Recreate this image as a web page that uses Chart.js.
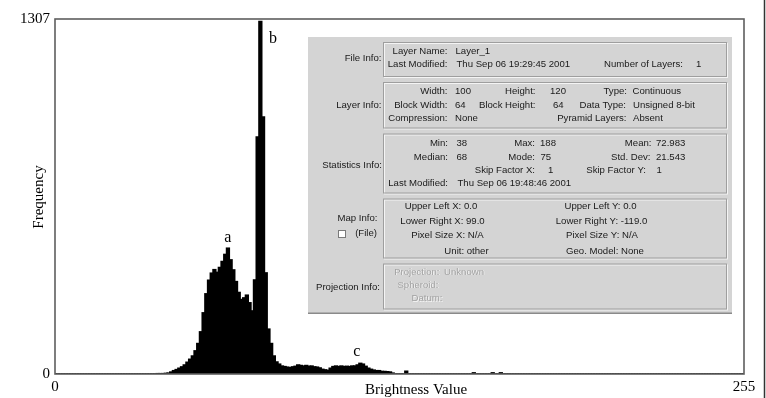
<!DOCTYPE html>
<html><head><meta charset="utf-8">
<script src="https://cdn.jsdelivr.net/npm/chart.js@4.4.1/dist/chart.umd.min.js"></script>
<style>html,body{margin:0;padding:0;background:#fff;overflow:hidden}canvas{display:block}</style>
</head><body>
<canvas id="c" width="766" height="398"></canvas>
<script>
// ---- data ----
const brightnessValues = Array.from({length: 256}, (_, i) => i); // category labels 0..255
const frequency = [
  0,0,0,0,0,0,0,0,0,0,0,0,0,0,0,0,
  0,0,0,0,0,0,0,0,0,0,0,0,0,0,0,0,
  0,0,0,0,0,0,1,1,1,2,3,7,12,16,21,26,
  33,43,54,66,85,112,155,225,295,345,371,384,374,392,414,440,
  463,420,383,340,300,274,280,290,262,232,346,872,1298,946,372,165,
  112,66,44,36,29,27,25,23,26,28,33,31,29,31,28,29,
  26,25,22,17,15,13,21,27,29,27,29,27,28,27,29,29,
  33,39,36,28,21,17,14,12,12,9,9,8,7,3,0,0,
  0,0,10,0,0,0,0,0,0,0,0,0,0,0,0,0,
  0,0,0,0,0,0,0,0,0,0,0,4,0,0,0,0,
  0,0,4,0,0,4,0,0,0,0,0,0,0,0,0,0,
  0,0,0,0,0,0,0,0,0,0,0,0,0,0,0,0,
  0,0,0,0,0,0,0,0,0,0,0,0,0,0,0,0,
  0,0,0,0,0,0,0,0,0,0,0,0,0,0,0,0,
  0,0,0,0,0,0,0,0,0,0,0,0,0,0,0,0,
  0,0,0,0,0,0,0,0,0,0,0,0,0,0,0,0
];
const yTickValues = [0, 1307];
const xTickIndices = [0, 255];
const peakNames = ['a', 'b', 'c'];
const peakBins = [64, 76, 113];
const xTitle = 'Brightness Value';
const yTitle = 'Frequency';

// ---- styles ----
const SERIF = '"Liberation Serif", "Times New Roman", serif';
const SANS = '"Liberation Sans", Arial, sans-serif';
const peakOffsets = [[0, -6.7], [12.6, 22], [-3.6, -7.4]]; // px offsets from bar top

const dialogBoxes = [
  [383, 42, 344, 35],
  [383, 82, 344, 46.5],
  [383, 133.5, 344, 60],
  [383, 198.5, 344, 60],
  [383, 263.5, 344, 46]
];
const L = 'left', R = 'right', C = 'center';
const dialogText = [
  [R,381.5,58,'File Info:'],
  [R,381.5,105,'Layer Info:'],
  [R,382,165,'Statistics Info:'],
  [R,377.5,218.5,'Map Info:'],
  [R,377,233.5,'(File)'],
  [R,380,287,'Projection Info:'],
  [R,447.5,51,'Layer Name:'],[L,455.5,51,'Layer_1'],
  [R,447.5,64.5,'Last Modified:'],[L,456.5,64.5,'Thu Sep 06 19:29:45 2001'],
  [R,683,64.5,'Number of Layers:'],[L,696,64.5,'1'],
  [R,447.5,91,'Width:'],[L,455,91,'100'],[R,535.5,91,'Height:'],[L,550,91,'120'],[R,627,91,'Type:'],[L,632.5,91,'Continuous'],
  [R,447.5,105,'Block Width:'],[L,455,105,'64'],[R,535.5,105,'Block Height:'],[L,553,105,'64'],[R,626,105,'Data Type:'],[L,633,105,'Unsigned 8-bit'],
  [R,447.5,118.5,'Compression:'],[L,455,118.5,'None'],[R,626.5,118.5,'Pyramid Layers:'],[L,633,118.5,'Absent'],
  [R,448,143.5,'Min:'],[L,456.5,143.5,'38'],[R,535,143.5,'Max:'],[L,540,143.5,'188'],[R,651.5,143.5,'Mean:'],[L,656,143.5,'72.983'],
  [R,448,157,'Median:'],[L,456.5,157,'68'],[R,535,157,'Mode:'],[L,540.5,157,'75'],[R,650.5,157,'Std. Dev:'],[L,656,157,'21.543'],
  [R,535,170,'Skip Factor X:'],[L,548,170,'1'],[R,646,170,'Skip Factor Y:'],[L,656.5,170,'1'],
  [R,448,183.5,'Last Modified:'],[L,457.5,183.5,'Thu Sep 06 19:48:46 2001'],
  [C,441,206,'Upper Left X: 0.0'],[C,442.5,221.5,'Lower Right X: 99.0'],[C,447.5,235.5,'Pixel Size X: N/A'],[C,466.5,251,'Unit: other'],
  [C,600.5,206,'Upper Left Y: 0.0'],[C,601.5,221.5,'Lower Right Y: -119.0'],[C,602,235.5,'Pixel Size Y: N/A'],[C,605,251,'Geo. Model: None'],
  [R,439.5,272,'Projection:',1],[L,444,272,'Unknown',1],[R,438.5,285,'Spheroid:',1],[R,442.5,298.5,'Datum:',1]
];

function drawDialog(ctx) {
  ctx.save();
  ctx.fillStyle = '#d4d4d4';
  ctx.fillRect(308, 37, 424, 277);
  ctx.fillStyle = '#8a8a8a';
  ctx.fillRect(308, 312.5, 424, 1.5);
  ctx.lineWidth = 1;
  for (const [x, y, w, h] of dialogBoxes) {
    ctx.strokeStyle = '#f4f4f4';
    ctx.strokeRect(x + 1.5, y + 1.5, w - 1, h - 1);
    ctx.strokeStyle = '#9e9e9e';
    ctx.strokeRect(x + 0.5, y + 0.5, w - 1, h - 1);
  }
  // checkbox
  ctx.fillStyle = '#ffffff';
  ctx.fillRect(338, 230, 7.5, 7.5);
  ctx.strokeStyle = '#7a7a7a';
  ctx.strokeRect(338.5, 230.5, 7, 7);

  ctx.font = '9.6px ' + SANS;
  ctx.textBaseline = 'middle';
  for (const [a, x, y, t, dis] of dialogText) {
    ctx.textAlign = a;
    if (dis) {
      ctx.fillStyle = '#f6f6f6';
      ctx.fillText(t, x + 0.8, y + 0.8);
      ctx.fillStyle = '#a2a2a2';
    } else {
      ctx.fillStyle = '#1a1a1a';
    }
    ctx.fillText(t, x, y);
  }
  ctx.restore();
}

const extras = {
  id: 'extras',
  afterDatasetsDraw(chart) {
    const {ctx, chartArea: a, scales} = chart;
    ctx.save();
    // frame
    ctx.strokeStyle = '#5e5e5e';
    ctx.lineWidth = 1.6;
    ctx.strokeRect(a.left, a.top, a.right - a.left, a.bottom - a.top);
    // far right border line
    ctx.strokeStyle = '#333';
    ctx.lineWidth = 1.5;
    ctx.beginPath(); ctx.moveTo(764.5, 0); ctx.lineTo(764.5, 398); ctx.stroke();
    // peak labels
    ctx.fillStyle = '#000';
    ctx.font = '16px ' + SERIF;
    ctx.textAlign = 'center';
    ctx.textBaseline = 'alphabetic';
    peakNames.forEach((n, i) => {
      const b = peakBins[i];
      const px = scales.x.getPixelForValue(b) + peakOffsets[i][0];
      const py = scales.y.getPixelForValue(frequency[b]) + peakOffsets[i][1];
      ctx.fillText(n, px, py);
    });
    // axis titles
    ctx.font = '15px ' + SERIF;
    ctx.fillText(xTitle, 416, 393.5);
    ctx.translate(39, 197);
    ctx.rotate(-Math.PI / 2);
    ctx.textBaseline = 'middle';
    ctx.fillText(yTitle, 0, 0);
    ctx.restore();
    drawDialog(ctx);
  }
};

new Chart(document.getElementById('c'), {
  type: 'bar',
  data: {
    labels: brightnessValues,
    datasets: [{
      data: frequency,
      backgroundColor: '#000',
      borderWidth: 0,
      inflateAmount: 0.8,
      barPercentage: 1,
      categoryPercentage: 1
    }]
  },
  options: {
    responsive: false,
    animation: false,
    devicePixelRatio: 1,
    layout: {padding: {left: 15, right: 22, top: 19, bottom: 0}},
    plugins: {legend: {display: false}, tooltip: {enabled: false}},
    scales: {
      x: {
        type: 'category',
        offset: false,
        grid: {display: false, drawTicks: false},
        border: {display: false},
        afterBuildTicks: s => { s.ticks = xTickIndices.map(v => ({value: v})); },
        afterFit: s => { s.height = 24; },
        ticks: {autoSkip: false, maxRotation: 0, padding: 4, color: '#000', font: {family: SERIF, size: 15}}
      },
      y: {
        min: 0, max: 1307,
        grid: {display: false, drawTicks: false},
        border: {display: false},
        afterBuildTicks: s => { s.ticks = yTickValues.map(v => ({value: v})); },
        afterFit: s => { s.width = 40; },
        ticks: {padding: 5, color: '#000', font: {family: SERIF, size: 15}, callback: v => String(v)}
      }
    }
  },
  plugins: [extras]
});
</script>
</body></html>
